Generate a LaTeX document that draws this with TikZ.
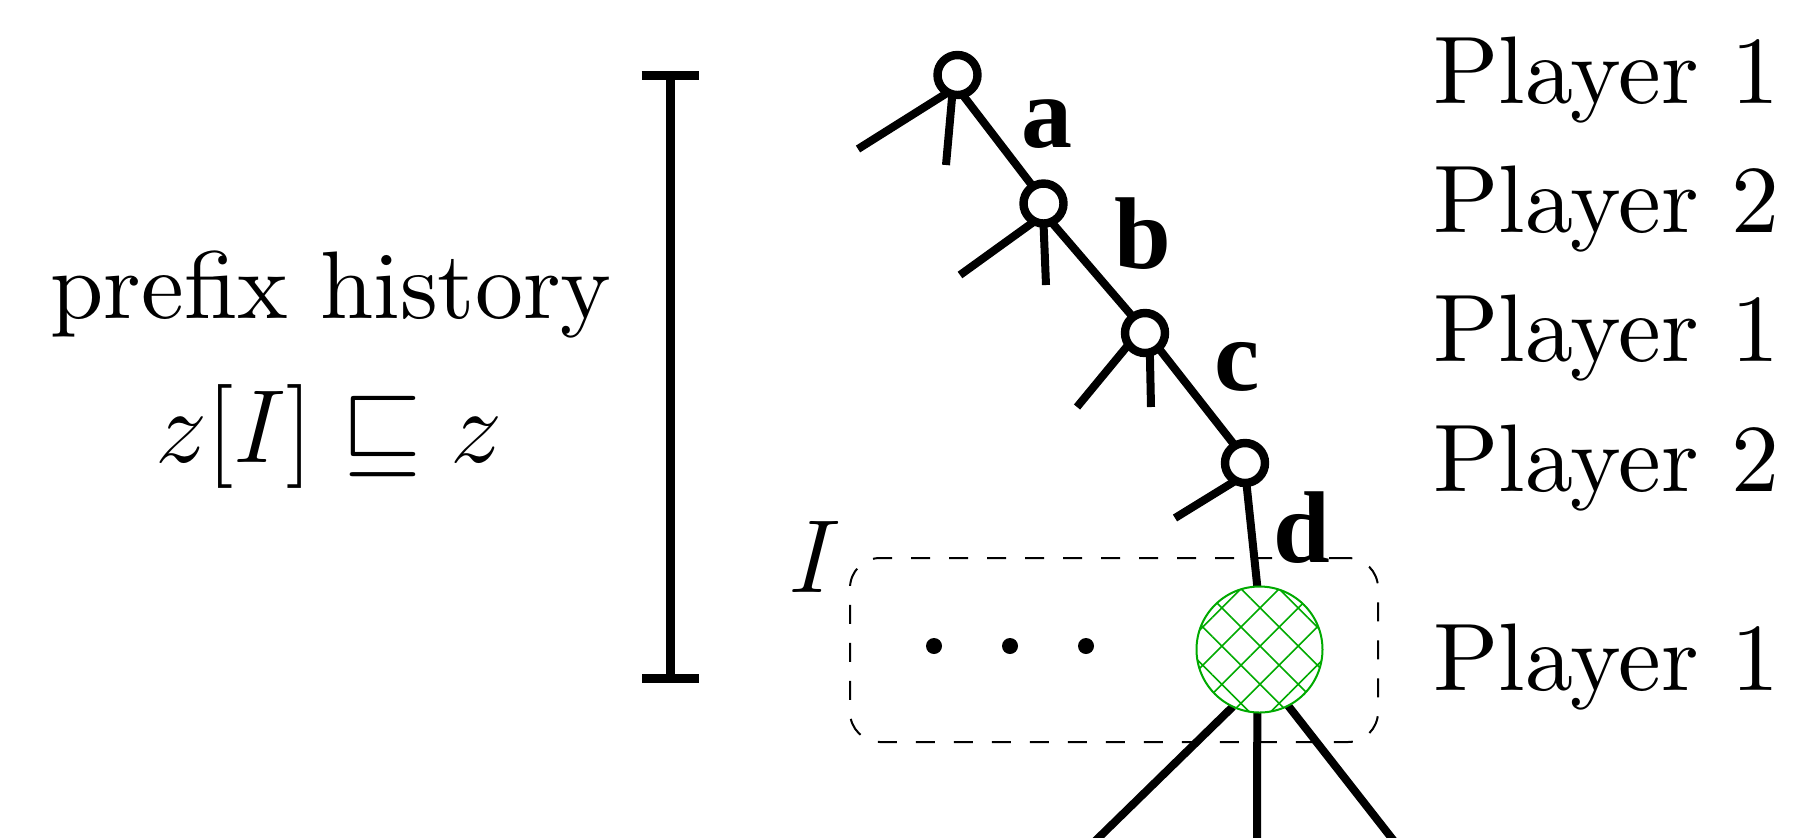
\RequirePackage{fix-cm}
\documentclass[tikz,border=0pt]{standalone}
\usepackage{fontspec}
\setmainfont{lmroman10-regular}[Extension=.otf]
\newfontfamily\lblfont{Liberation Serif}
\usetikzlibrary{patterns.meta,arrows.meta}
\pgfdeclarelayer{background}
\pgfsetlayers{background,main}
\definecolor{igreen}{RGB}{0,170,0}
\begin{document}
\begin{tikzpicture}[x=0.5pt,y=-0.5pt,
  hnode/.style={circle,draw,line width=4.2pt,fill=white,minimum size=20pt,inner sep=0pt,outer sep=0pt},
  gnode/.style={circle,draw=igreen,line width=1pt,minimum size=63pt,inner sep=0pt,outer sep=0pt,
    preaction={fill=white},pattern={Hatch[angle=45,distance=13.5pt,line width=0.8pt]},pattern color=igreen},
  edgeline/.style={line width=4pt},
  lbl/.style={font={\lblfont\bfseries\fontsize{51}{60}\selectfont},anchor=base,inner sep=0pt},
  ptxt/.style={font={\fontsize{48}{57}\selectfont},anchor=base west,inner sep=0pt},
  ltxt/.style={font={\fontsize{48}{57}\selectfont},anchor=base,inner sep=0pt},
  mtxt/.style={font={\fontsize{52}{62}\selectfont},anchor=base,inner sep=0pt},
  dotnode/.style={circle,fill,minimum size=8pt,inner sep=0pt},
  infobox/.style={draw,dash pattern=on 9.5pt off 9.5pt,rounded corners=15pt,line width=1pt,
    minimum width=264pt,minimum height=92pt,inner sep=0pt}]
\clip (0,0) rectangle (1795,837);

% information set box
\node[infobox] (iset) at (1114,650) {};
\node[mtxt] (Ilbl) at (815,592) {$I$};

% history nodes
\node[hnode] (n1) at (957.5,75) {};
\node[hnode] (n2) at (1043.5,203.5) {};
\node[hnode] (n3) at (1145,333) {};
\node[hnode] (n4) at (1245,463) {};
\node[gnode] (g) at (1259.5,649.5) {};

% dots
\node[dotnode] (d1) at (934,646) {};
\node[dotnode] (d2) at (1010,646) {};
\node[dotnode] (d3) at (1086,646) {};

% free child ends
\coordinate (c1a) at (858,149);
\coordinate (c1b) at (946,165);
\coordinate (c2a) at (960,275);
\coordinate (c2b) at (1046,285);
\coordinate (c3a) at (1077,407);
\coordinate (c3b) at (1151,407);
\coordinate (c4a) at (1175,518);
\coordinate (gl) at (1086,850);
\coordinate (gm) at (1257,850);
\coordinate (gr) at (1401,850);

\begin{pgfonlayer}{background}
\draw[edgeline] (n1.-119) -- (c1a);
\draw[edgeline] (n1.-105) -- (c1b);
\draw[edgeline] (n1.-76) -- (n2.122);
\draw[edgeline] (n2.-117) -- (c2a);
\draw[edgeline] (n2.-90) -- (c2b);
\draw[edgeline] (n2.-67) -- (n3.127);
\draw[edgeline] (n3.-145) -- (c3a);
\draw[edgeline] (n3.-76) -- (c3b);
\draw[edgeline] (n3.-48) -- (n4.120);
\draw[edgeline] (n4.-118) -- (c4a);
\draw[edgeline] (n4.-86) -- (g.92);
\draw[edgeline] (g.-115) -- (gl);
\draw[edgeline] (g.-92) -- (gm);
\draw[edgeline] (g.-63) -- (gr);
\end{pgfonlayer}

% action labels
\node[lbl] (la) at (1047,147) {a};
\node[lbl] (lb) at (1143,268) {b};
\node[lbl] (lc) at (1237,390) {c};
\node[lbl] (ld) at (1302,562) {d};

% player labels
\node[ptxt] (p1) at (1433,103) {Player 1};
\node[ptxt] (p2) at (1433,232) {Player 2};
\node[ptxt] (p3) at (1433,361) {Player 1};
\node[ptxt] (p4) at (1433,491) {Player 2};
\node[ptxt] (p5) at (1433,690) {Player 1};

% prefix bar
\coordinate (btop) at (670,70.5);
\coordinate (bbot) at (670,682.5);
\draw[line width=4.5pt,{Bar[width=28.5pt]}-{Bar[width=28.5pt]}] (btop) -- (bbot);

% left text
\node[ltxt] (pre) at (331,318) {prefix history};
\node[mtxt] (zz) at (329,462) {$z[I]\sqsubseteq z$};
\end{tikzpicture}
\end{document}
